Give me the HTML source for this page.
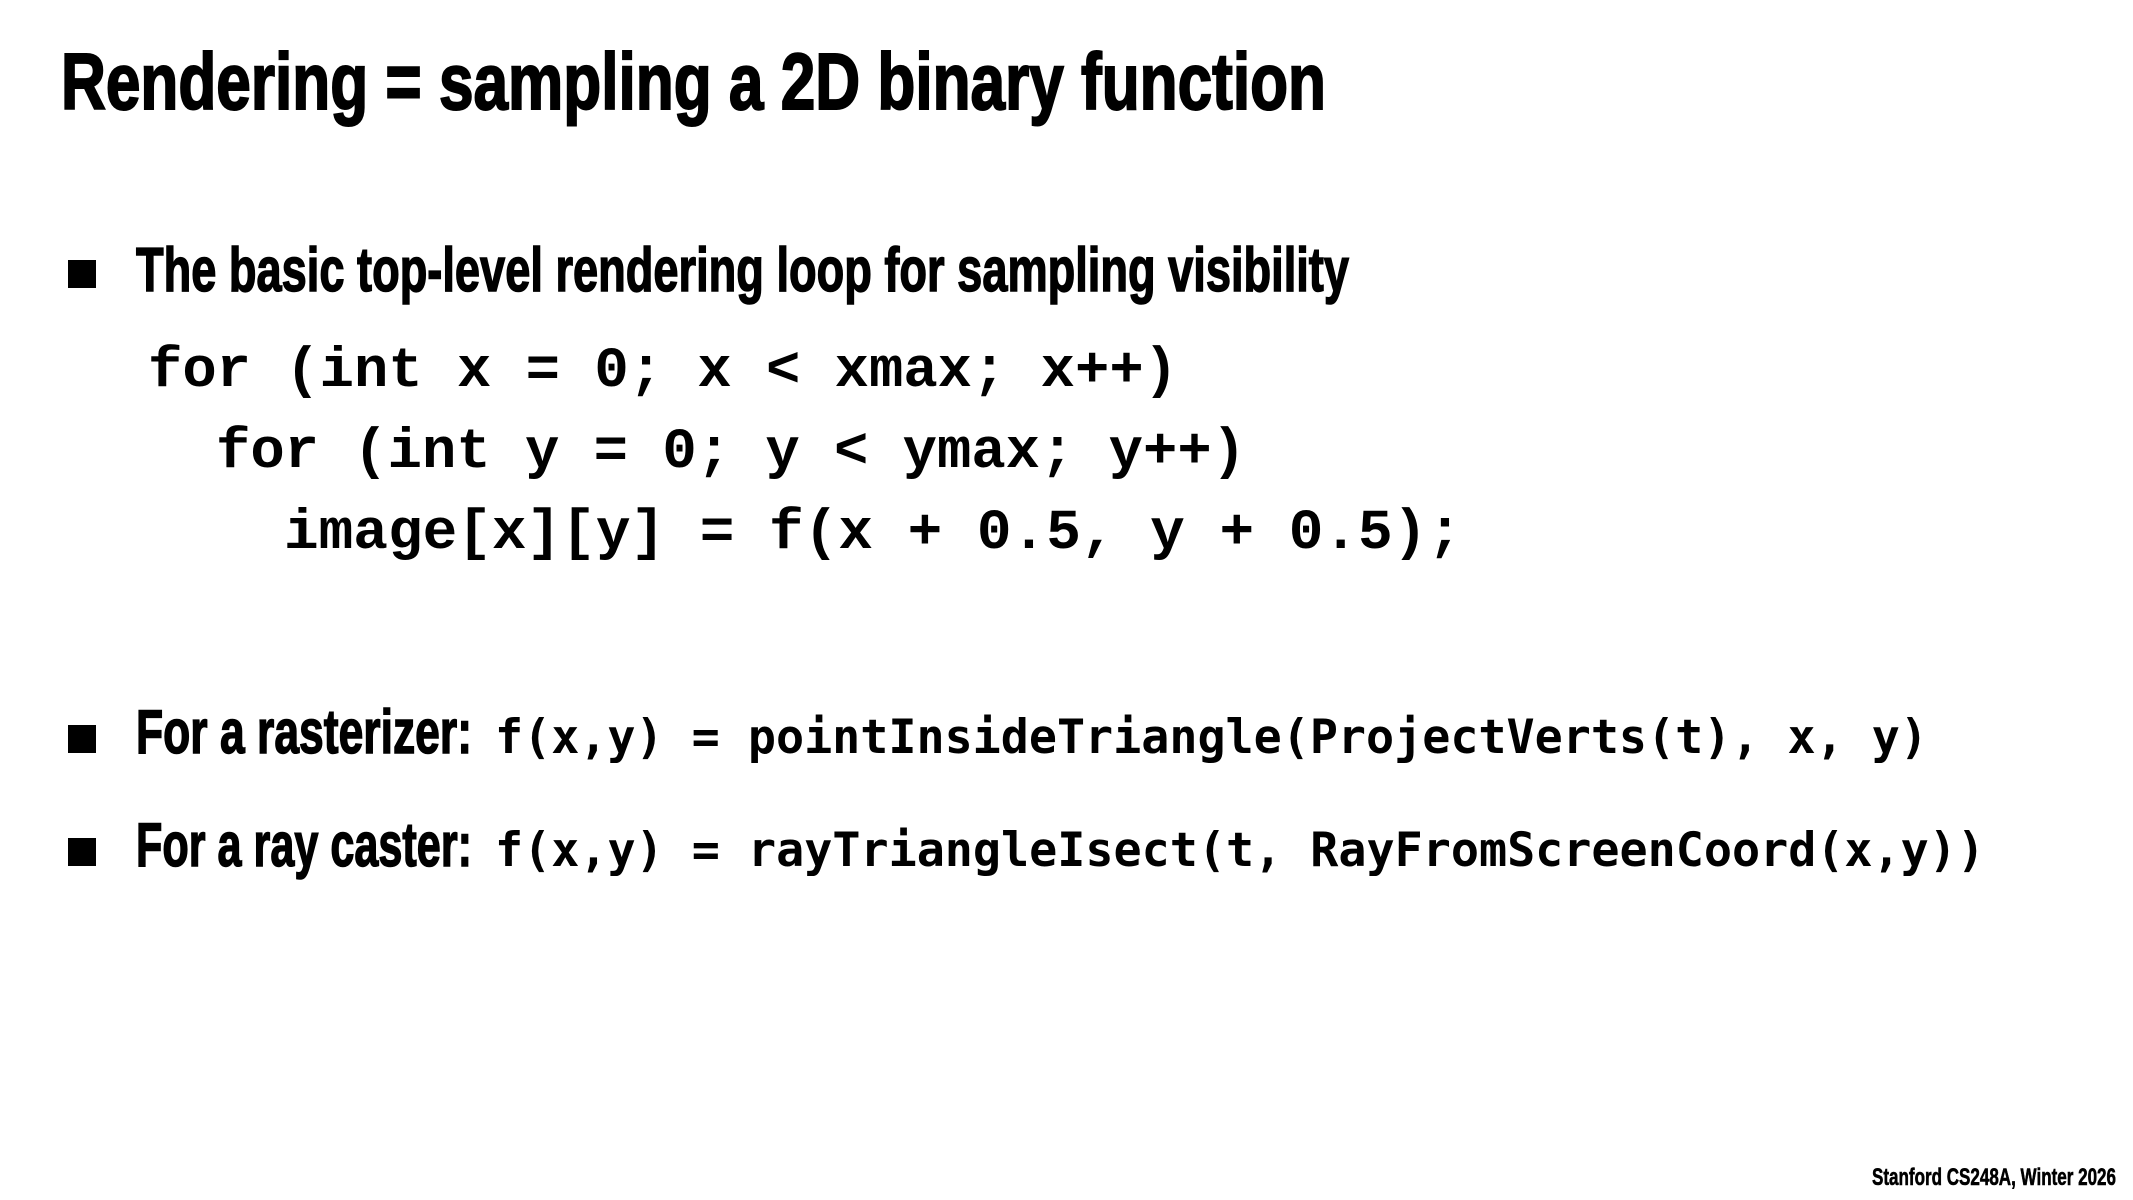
<!DOCTYPE html>
<html><head><meta charset="utf-8">
<style>
html,body{margin:0;padding:0;background:#fff;width:2133px;height:1200px;overflow:hidden}
svg{display:block}
.t{font-family:"Liberation Sans Narrow","Liberation Sans",sans-serif;font-weight:bold;fill:#000;stroke:#000}
.c{font-family:"Liberation Mono","Courier New",monospace;font-weight:bold;fill:#000}
.d{font-family:"DejaVu Sans Mono","Liberation Mono",monospace;font-weight:bold;fill:#000}
</style></head>
<body>
<svg width="2133" height="1200" viewBox="0 0 2133 1200" xmlns="http://www.w3.org/2000/svg">
<text class="t" stroke-width="2" x="61" y="109" font-size="80" textLength="1265" lengthAdjust="spacingAndGlyphs">Rendering = sampling a 2D binary function</text>
<rect x="68" y="260" width="28" height="28" fill="#000"/>
<text class="t" stroke-width="1.5" x="136" y="291" font-size="62" textLength="1213" lengthAdjust="spacingAndGlyphs">The basic top-level rendering loop for sampling visibility</text>
<text class="c" x="148" y="386" font-size="57" textLength="1030" lengthAdjust="spacingAndGlyphs">for (int x = 0; x &lt; xmax; x++)</text>
<text class="c" x="216" y="467" font-size="57" textLength="1030" lengthAdjust="spacingAndGlyphs">for (int y = 0; y &lt; ymax; y++)</text>
<text class="c" x="284" y="548" font-size="57" textLength="1178" lengthAdjust="spacingAndGlyphs">image[x][y] = f(x + 0.5, y + 0.5);</text>
<rect x="68" y="725" width="28" height="28" fill="#000"/>
<text class="t" stroke-width="1.5" x="136" y="753" font-size="62" textLength="336" lengthAdjust="spacingAndGlyphs">For a rasterizer:</text>
<text class="d" x="495" y="753" font-size="47" textLength="1433" lengthAdjust="spacingAndGlyphs">f(x,y) = pointInsideTriangle(ProjectVerts(t), x, y)</text>
<rect x="68" y="838" width="28" height="28" fill="#000"/>
<text class="t" stroke-width="1.5" x="136" y="866" font-size="62" textLength="336" lengthAdjust="spacingAndGlyphs">For a ray caster:</text>
<text class="d" x="495" y="866" font-size="47" textLength="1490" lengthAdjust="spacingAndGlyphs">f(x,y) = rayTriangleIsect(t, RayFromScreenCoord(x,y))</text>
<text class="t" stroke-width="0.6" x="1872" y="1185" font-size="24" textLength="244" lengthAdjust="spacingAndGlyphs">Stanford CS248A, Winter 2026</text>
</svg>
</body></html>
